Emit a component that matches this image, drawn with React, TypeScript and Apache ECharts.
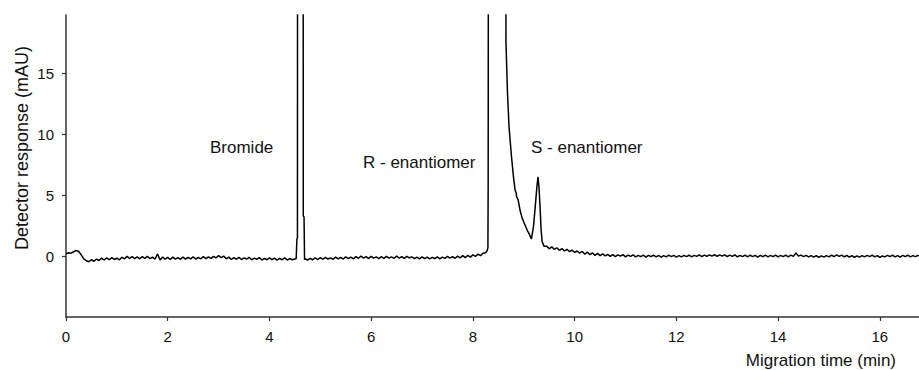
import React, { useEffect, useRef } from "react";
import * as echarts from "echarts";

// ---- data ----
const SAMPLE_STEP = 0.05; // min between baseline samples

const xTickValues = [0, 2, 4, 6, 8, 10, 12, 14, 16];
const yTickValues = [0, 5, 10, 15];

// baseline 0.00 – 4.50 min
const baselineStartA = 0.0;
const baselineA = [
  0.2, 0.28, 0.24, 0.36, 0.46, 0.38, 0.1, -0.22, -0.38, -0.46,
  -0.3, -0.42, -0.24, -0.36, -0.16, -0.32, -0.14, -0.3, -0.12, -0.28,
  -0.16, -0.3, -0.1, -0.22, -0.02, -0.18, -0.04, -0.2, -0.06, -0.22,
  -0.04, -0.18, -0.02, -0.2, -0.08, -0.24, 0.18, -0.32, -0.08, -0.26,
  -0.1, -0.28, -0.08, -0.24, -0.12, -0.26, -0.08, -0.24, -0.1, -0.22,
  -0.06, -0.24, -0.1, -0.22, -0.04, -0.2, -0.06, -0.18, -0.02, -0.14,
  0.04, -0.12, 0.0, -0.22, -0.08, -0.28, -0.12, -0.26, -0.1, -0.28,
  -0.14, -0.24, -0.1, -0.3, -0.16, -0.26, -0.12, -0.32, -0.18, -0.3,
  -0.14, -0.28, -0.16, -0.34, -0.18, -0.3, -0.14, -0.32, -0.2, -0.3,
  -0.24,
];

// bromide peak [time, response]
const bromidePeak: [number, number][] = [
  [4.525, -0.22], [4.535, -0.2], [4.54, 1.4], [4.55, 1.5], [4.555, 60],
  [4.66, 60], [4.665, 3.3], [4.68, 3.2], [4.69, -0.3],
];

// baseline 4.70 – 8.25 min
const baselineStartB = 4.7;
const baselineB = [
  -0.22, -0.32, -0.18, -0.3, -0.14, -0.28, -0.12, -0.26, -0.1, -0.24,
  -0.14, -0.26, -0.08, -0.22, -0.1, -0.24, -0.06, -0.2, -0.08, -0.22,
  -0.04, -0.18, 0.0, -0.16, -0.04, -0.2, -0.02, -0.16, -0.06, -0.2,
  -0.04, -0.18, -0.02, -0.16, -0.06, -0.18, 0.0, -0.16, -0.04, -0.18,
  -0.02, -0.14, -0.06, -0.2, -0.08, -0.22, -0.06, -0.2, -0.08, -0.22,
  -0.1, -0.2, -0.06, -0.22, -0.08, -0.18, -0.02, -0.16, -0.04, -0.18,
  0.0, -0.14, 0.04, -0.12, 0.06, -0.08, 0.1, -0.02, 0.16, 0.04,
  0.24, 0.28,
];

// R- and S-enantiomer peaks [time, response]
const enantiomerPeaks: [number, number][] = [
  [8.28, 0.45], [8.295, 0.7], [8.3, 6.1], [8.305, 6.1], [8.31, 60],
  [8.63, 60], [8.65, 17.5], [8.68, 13.4], [8.71, 10.6], [8.76, 8.1],
  [8.8, 6.4], [8.83, 5.4], [8.85, 5.2], [8.86, 4.9], [8.89, 4.6],
  [8.93, 3.7], [8.97, 3.1], [9.02, 2.6], [9.07, 2.1], [9.11, 1.8],
  [9.15, 1.4], [9.19, 2.4], [9.22, 3.8], [9.26, 5.8], [9.28, 6.5],
  [9.3, 5.6], [9.32, 4.0], [9.34, 2.2], [9.36, 1.2], [9.4, 0.8],
];

// baseline 9.45 – 16.80 min
const baselineStartC = 9.45;
const baselineC = [
  0.82, 0.6, 0.76, 0.56, 0.68, 0.48, 0.62, 0.42, 0.56, 0.36,
  0.5, 0.3, 0.42, 0.24, 0.38, 0.16, 0.32, 0.12, 0.26, 0.06,
  0.22, 0.04, 0.18, 0.02, 0.14, -0.02, 0.12, -0.04, 0.1, 0.0,
  0.12, -0.06, 0.08, -0.02, 0.1, -0.06, 0.06, -0.04, 0.08, -0.08,
  0.06, -0.04, 0.08, -0.06, 0.06, -0.08, 0.04, -0.06, 0.08, -0.04,
  0.06, -0.08, 0.04, -0.06, 0.06, -0.04, 0.08, -0.06, 0.06, -0.02,
  0.1, -0.04, 0.08, -0.02, 0.1, 0.0, 0.12, -0.02, 0.1, 0.0,
  0.1, -0.04, 0.08, -0.02, 0.1, -0.06, 0.06, -0.04, 0.08, -0.06,
  0.08, -0.04, 0.06, -0.08, 0.06, -0.04, 0.08, -0.06, 0.06, -0.04,
  0.08, -0.06, 0.06, -0.04, 0.08, -0.06, 0.08, -0.02, 0.26, 0.0,
  0.08, -0.04, 0.06, -0.06, 0.04, -0.08, 0.04, -0.1, 0.02, -0.08,
  0.04, -0.06, 0.08, -0.04, 0.1, -0.02, 0.08, -0.06, 0.06, -0.08,
  0.04, -0.1, 0.02, -0.08, 0.04, -0.06, 0.06, -0.04, 0.08, -0.06,
  0.04, -0.1, 0.02, -0.06, 0.06, -0.04, 0.08, -0.06, 0.04, -0.08,
  0.06, -0.04, 0.08, -0.06, 0.04, -0.04, 0.06, 0.0,
];

const annotations = [
  { text: "Bromide", x: 210, y: 147 },
  { text: "R - enantiomer", x: 363, y: 162 },
  { text: "S - enantiomer", x: 531, y: 147 },
];

const FONT = "'Liberation Sans', Arial, Helvetica, sans-serif";
const TEXT_COLOR = "#111";

function sampled(start: number, values: number[]): [number, number][] {
  return values.map((v, i) => [+(start + i * SAMPLE_STEP).toFixed(3), v]);
}

export default function App() {
  const ref = useRef<HTMLDivElement>(null);

  useEffect(() => {
    if (!ref.current) return;
    const chart = echarts.init(ref.current, undefined, { renderer: "svg" });

    const trace: [number, number][] = [
      ...sampled(baselineStartA, baselineA),
      ...bromidePeak,
      ...sampled(baselineStartB, baselineB),
      ...enantiomerPeaks,
      ...sampled(baselineStartC, baselineC),
    ];

    chart.setOption({
      animation: false,
      backgroundColor: "#fff",
      grid: {
        left: 66,
        right: 0,
        top: 15,
        bottom: 53,
        containLabel: false,
        outerBoundsMode: "none",
      },
      xAxis: {
        type: "value",
        min: 0,
        max: 16.77,
        axisLine: { show: true, onZero: false, lineStyle: { color: "#333", width: 1.5 } },
        axisTick: {
          show: true,
          length: 4,
          customValues: xTickValues,
          lineStyle: { color: "#333", width: 1.2 },
        },
        axisLabel: {
          show: true,
          customValues: xTickValues,
          fontSize: 15,
          fontFamily: FONT,
          color: TEXT_COLOR,
          margin: 12,
        },
        splitLine: { show: false },
      },
      yAxis: {
        type: "value",
        min: -5,
        max: 19.8,
        axisLine: { show: true, onZero: false, lineStyle: { color: "#333", width: 1.5 } },
        axisTick: {
          show: true,
          length: 4,
          customValues: yTickValues,
          lineStyle: { color: "#333", width: 1.2 },
        },
        axisLabel: {
          show: true,
          customValues: yTickValues,
          fontSize: 15,
          fontFamily: FONT,
          color: TEXT_COLOR,
          margin: 12,
        },
        splitLine: { show: false },
      },
      series: [
        {
          type: "line",
          data: trace,
          showSymbol: false,
          symbol: "none",
          clip: true,
          lineStyle: { color: "#000", width: 1.5 },
        },
      ],
      graphic: [
        ...annotations.map((a) => ({
          type: "text",
          x: a.x,
          y: a.y,
          style: {
            text: a.text,
            fontSize: 17,
            fontFamily: FONT,
            fill: TEXT_COLOR,
            textAlign: "left",
            textVerticalAlign: "middle",
          },
        })),
        {
          type: "text",
          x: 896,
          y: 360,
          style: {
            text: "Migration time (min)",
            fontSize: 17,
            fontFamily: FONT,
            fill: TEXT_COLOR,
            textAlign: "right",
            textVerticalAlign: "middle",
          },
        },
        {
          type: "text",
          x: 22,
          y: 148,
          rotation: Math.PI / 2,
          style: {
            text: "Detector response (mAU)",
            fontSize: 18,
            fontFamily: FONT,
            fill: TEXT_COLOR,
            textAlign: "center",
            textVerticalAlign: "middle",
          },
        },
      ],
    });

    return () => chart.dispose();
  }, []);

  return (
    <div
      ref={ref}
      style={{ position: "fixed", left: 0, top: 0, width: 919, height: 370, background: "#fff" }}
    />
  );
}
